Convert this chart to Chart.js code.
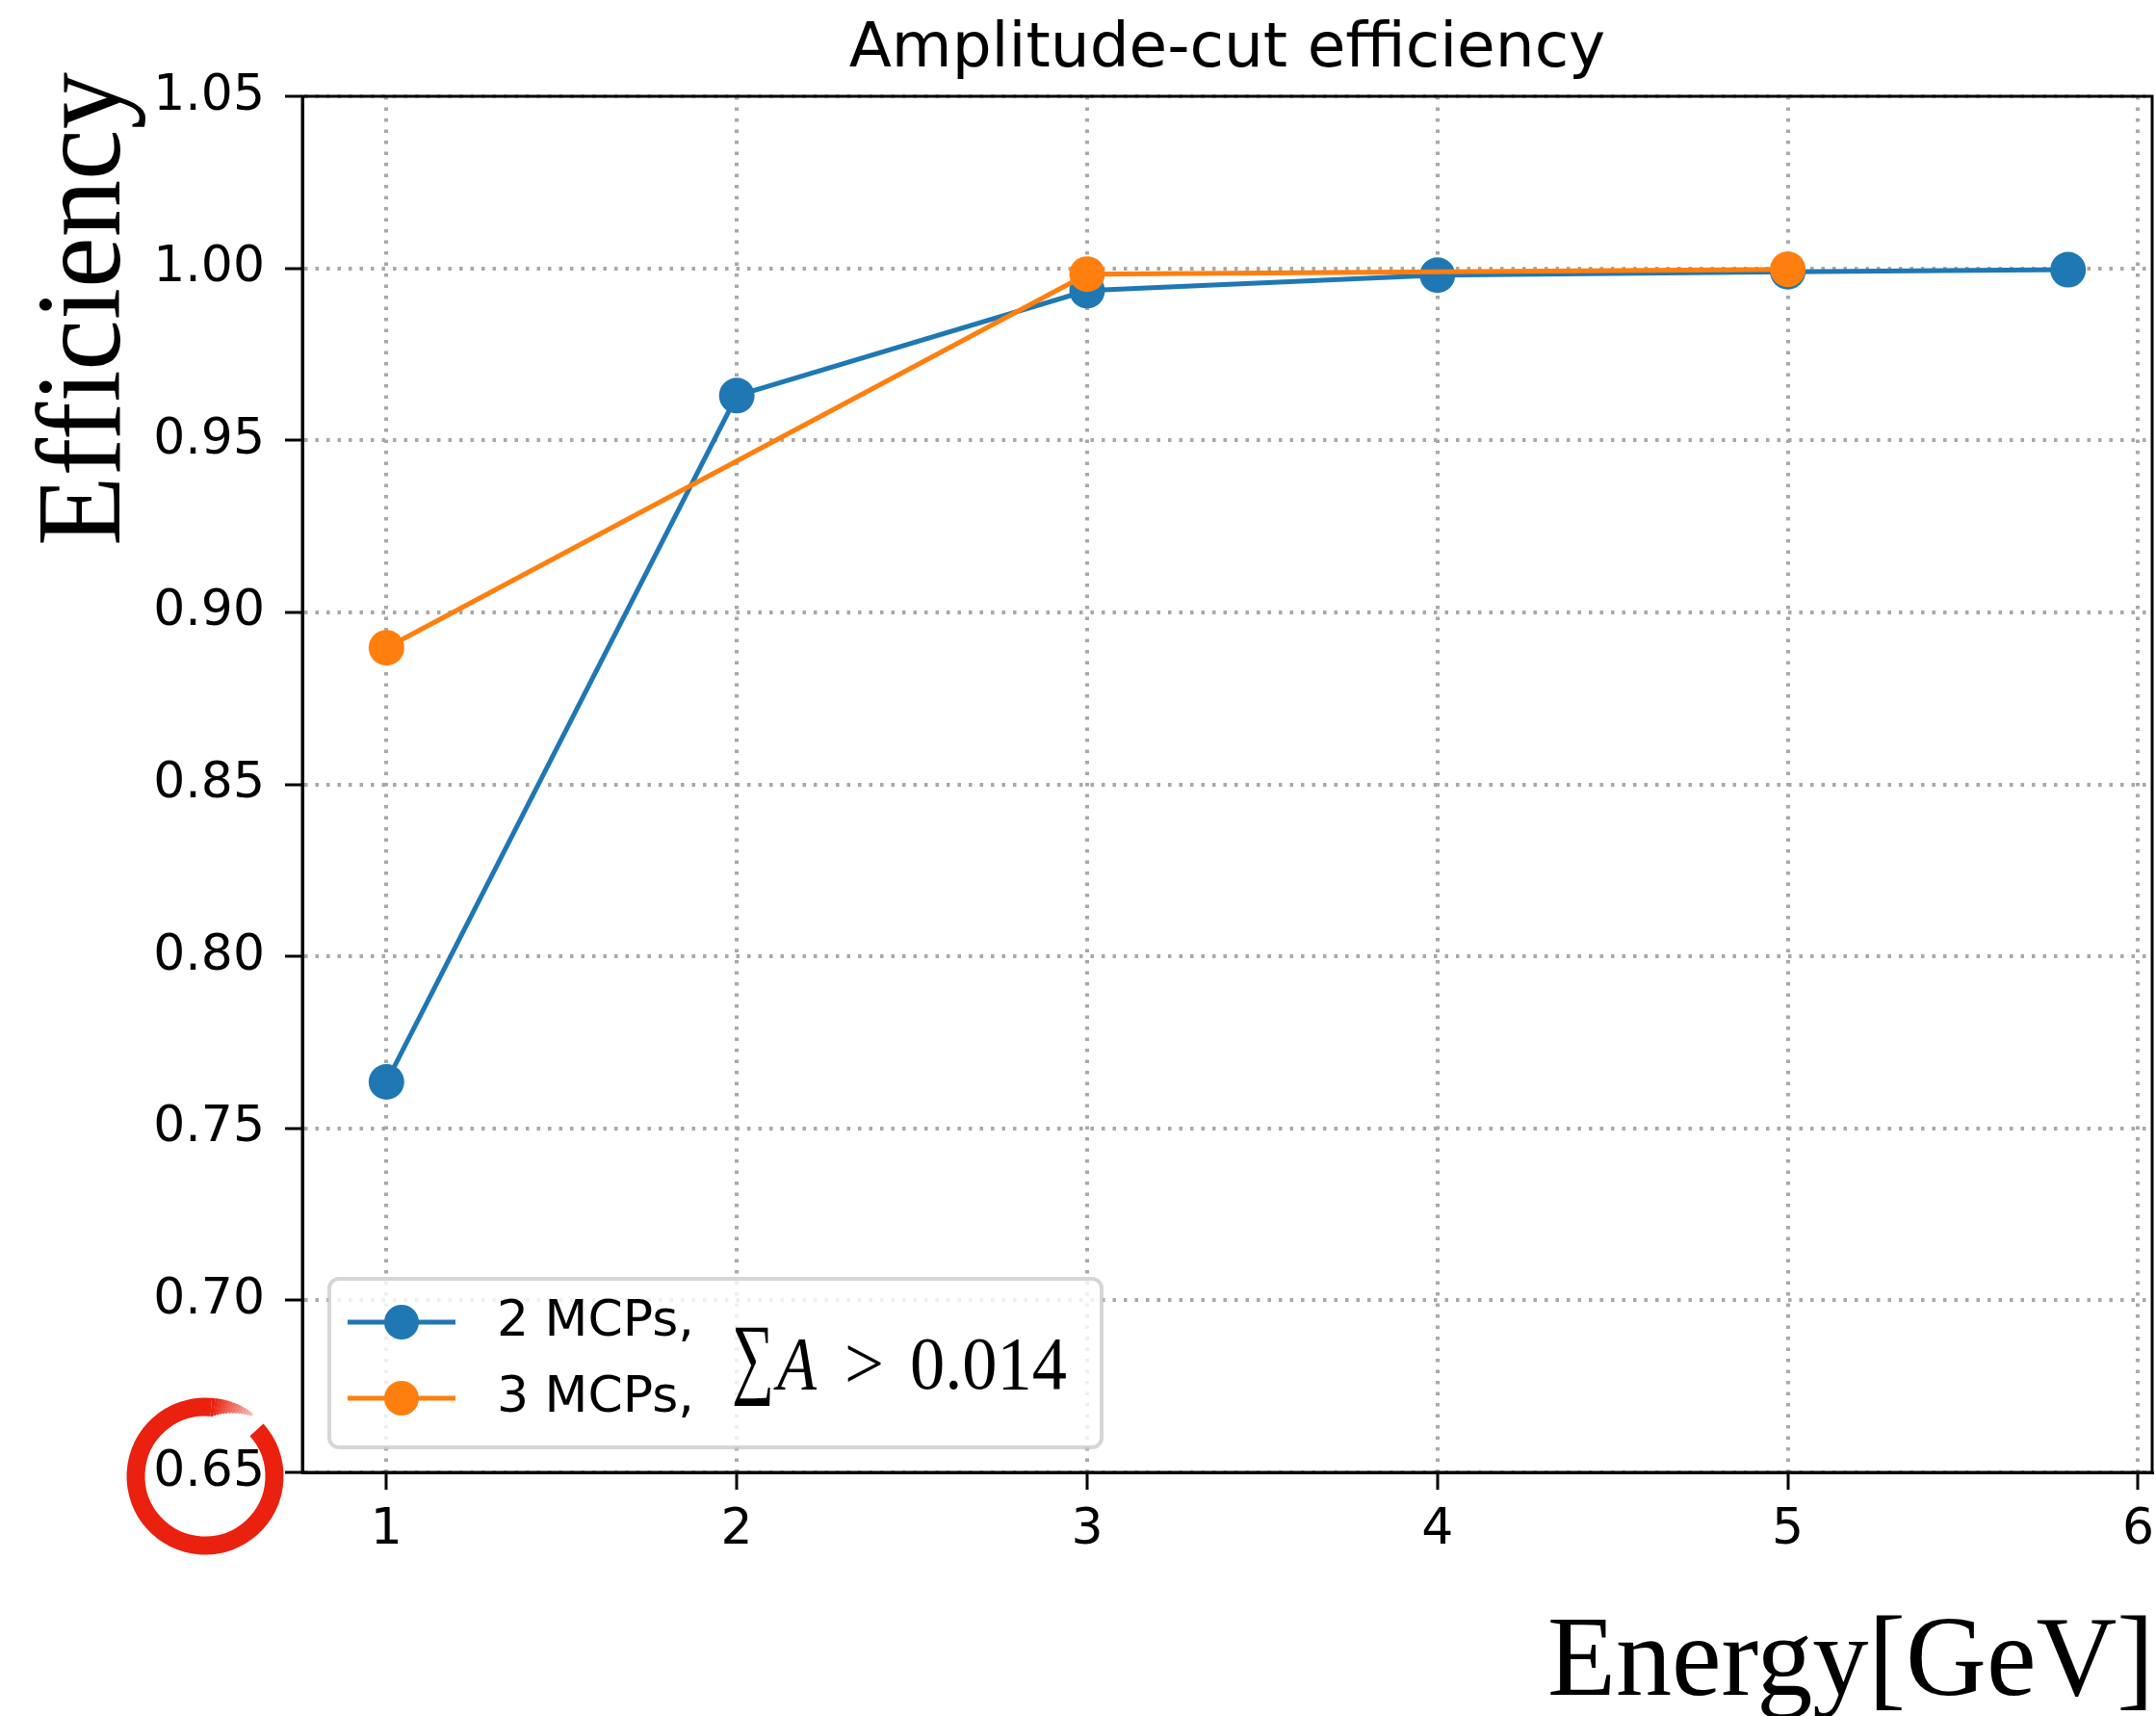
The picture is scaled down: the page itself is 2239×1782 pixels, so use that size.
<!DOCTYPE html>
<html>
<head>
<meta charset="utf-8">
<script src="https://cdn.jsdelivr.net/npm/chart.js@4"></script>
<style>
  body { margin: 0; background: #fff; }
  #wrap { width: 2239px; height: 1782px; }
</style>
</head>
<body>
<div id="wrap"><canvas id="effChart" width="2239" height="1782"></canvas></div>
<script>
// values
const energy2 = [1, 2, 3, 4, 5, 5.8];
const eff2 = [0.7635, 0.963, 0.9935, 0.998, 0.999, 0.9996];
const energy3 = [1, 3, 5];
const eff3 = [0.8897, 0.9983, 0.9997];
const seriesNames = ['2 MCPs,', '3 MCPs,'];
const xTicks = [1, 2, 3, 4, 5, 6];
const yTicks = [0.65, 0.70, 0.75, 0.80, 0.85, 0.90, 0.95, 1.00, 1.05];
const titleText = 'Amplitude-cut efficiency';
const xLabel = 'Energy[GeV]';
const yLabel = 'Efficiency';
const cutParts = ['\u2211', 'A', '>', '0.014'];

const blue = '#1f77b4';
const orange = '#ff7f0e';
const tickFont = { family: 'DejaVu Sans', size: 52 };
const gridDash = [3.5, 8];

const toPoints = (xs, ys) => xs.map((x, i) => ({ x: x, y: ys[i] }));

// draws text squeezed to a given width (the serif labels are narrow)
function fitText(ctx, text, x, y, width) {
  const w = ctx.measureText(text).width;
  ctx.save();
  ctx.translate(x, y);
  ctx.scale(width / w, 1);
  ctx.fillText(text, 0, 0);
  ctx.restore();
}

// titles, frame, legend and the red mark are painted here
const decor = {
  id: 'decor',
  afterDraw(chart) {
    const ctx = chart.ctx;
    const a = chart.chartArea;
    const ys = chart.scales.y;

    ctx.save();
    // frame on all four sides
    ctx.strokeStyle = '#000';
    ctx.lineWidth = 3;
    ctx.strokeRect(a.left, a.top, a.right - a.left, a.bottom - a.top);

    // title
    ctx.fillStyle = '#000';
    ctx.font = '64.5px "DejaVu Sans"';
    ctx.textAlign = 'center';
    ctx.textBaseline = 'alphabetic';
    ctx.fillText(titleText, (a.left + a.right) / 2, a.top - 31);

    // x label, right aligned
    ctx.font = '119px "Liberation Serif"';
    ctx.textAlign = 'left';
    fitText(ctx, xLabel, a.right - 628, a.bottom + 231, 630);

    // y label, rotated
    ctx.save();
    ctx.translate(124, 567);
    ctx.rotate(-Math.PI / 2);
    ctx.font = '125px "Liberation Serif"';
    fitText(ctx, yLabel, 0, 0, 492);
    ctx.restore();

    // legend box
    const bx = a.left + 28, bb = a.bottom - 26;
    const bw = 802, bh = 175, by = bb - bh;
    ctx.beginPath();
    ctx.roundRect(bx, by, bw, bh, 10);
    ctx.fillStyle = 'rgba(255,255,255,0.8)';
    ctx.fill();
    ctx.strokeStyle = 'rgba(204,204,204,0.8)';
    ctx.lineWidth = 4;
    ctx.stroke();

    const rows = [by + 45, by + 124];
    const cols = [blue, orange];
    rows.forEach((ry, i) => {
      ctx.strokeStyle = cols[i];
      ctx.lineWidth = 5;
      ctx.beginPath();
      ctx.moveTo(bx + 19, ry);
      ctx.lineTo(bx + 131, ry);
      ctx.stroke();
      ctx.fillStyle = cols[i];
      ctx.beginPath();
      ctx.arc(bx + 75, ry, 18, 0, Math.PI * 2);
      ctx.fill();
      ctx.fillStyle = '#000';
      ctx.font = '52px "DejaVu Sans"';
      ctx.textAlign = 'left';
      ctx.textBaseline = 'middle';
      ctx.fillText(seriesNames[i], bx + 174, ry);
    });

    // cut condition next to the entries
    ctx.textBaseline = 'alphabetic';
    ctx.textAlign = 'left';
    const tb = by + 114;
    ctx.font = '94px "Liberation Serif", "DejaVu Serif"';
    fitText(ctx, cutParts[0], bx + 418, tb - 2, 44);
    ctx.font = 'italic 78px "Liberation Serif"';
    fitText(ctx, cutParts[1], bx + 465, tb, 41);
    ctx.font = '78px "Liberation Serif"';
    fitText(ctx, cutParts[2], bx + 535, tb, 41);
    fitText(ctx, cutParts[3], bx + 603, tb, 163);

    // red ring round the lowest tick label
    const cx = a.left - 101;
    const cy = ys.getPixelForValue(yTicks[0]) + 4;
    const r = 72;
    const deg = Math.PI / 180;
    ctx.strokeStyle = 'rgb(233,33,14)';
    ctx.lineCap = 'butt';
    ctx.lineWidth = 19;
    ctx.beginPath();
    ctx.arc(cx, cy, r, -42 * deg, 275 * deg);
    ctx.stroke();
    // tapered tail of the brush stroke
    for (let k = 0; k < 14; k++) {
      const t0 = 275 + k * 2.5, t1 = t0 + 2.6;
      ctx.lineWidth = 19 * (1 - k / 16);
      ctx.globalAlpha = 1 - k / 18;
      ctx.beginPath();
      ctx.arc(cx, cy - k * 0.4, r + k * 0.3, t0 * deg, t1 * deg);
      ctx.stroke();
    }
    ctx.restore();
  }
};

const gridOpts = {
  color: '#a8a8a8',
  lineWidth: 4,
  borderDash: gridDash,
  tickColor: '#000',
  tickWidth: 3,
  tickLength: 18,
  tickBorderDash: []
};
const borderOpts = { display: true, color: '#000', width: 3, dash: gridDash };

new Chart(document.getElementById('effChart'), {
  type: 'line',
  data: {
    datasets: [
      {
        label: seriesNames[0],
        data: toPoints(energy2, eff2),
        borderColor: blue,
        backgroundColor: blue,
        borderWidth: 5,
        pointRadius: 18.5,
        pointBorderWidth: 0,
        pointBackgroundColor: blue,
        tension: 0,
        order: 1
      },
      {
        label: seriesNames[1],
        data: toPoints(energy3, eff3),
        borderColor: orange,
        backgroundColor: orange,
        borderWidth: 5,
        pointRadius: 18.5,
        pointBorderWidth: 0,
        pointBackgroundColor: orange,
        tension: 0,
        order: 0
      }
    ]
  },
  options: {
    responsive: false,
    animation: false,
    devicePixelRatio: 1,
    layout: { autoPadding: false, padding: { left: 0, top: 100, right: 4, bottom: 0 } },
    plugins: {
      legend: { display: false },
      title: { display: false },
      tooltip: { enabled: false }
    },
    scales: {
      x: {
        type: 'linear',
        min: 0.76,
        max: 6.04,
        afterBuildTicks: (s) => { s.ticks = xTicks.map(v => ({ value: v })); },
        afterFit: (s) => { s.height = 253; s.paddingLeft = 0; s.paddingRight = 0; },
        ticks: {
          font: tickFont,
          color: '#000',
          padding: 11,
          maxRotation: 0,
          callback: (v) => String(v)
        },
        grid: gridOpts,
        border: borderOpts
      },
      y: {
        min: 0.65,
        max: 1.05,
        afterBuildTicks: (s) => { s.ticks = yTicks.map(v => ({ value: v })); },
        afterFit: (s) => { s.width = 314; s.paddingTop = 0; s.paddingBottom = 0; },
        ticks: {
          font: tickFont,
          color: '#000',
          padding: 21,
          callback: (v) => v.toFixed(2)
        },
        grid: gridOpts,
        border: borderOpts
      }
    }
  },
  plugins: [decor]
});
</script>
</body>
</html>
